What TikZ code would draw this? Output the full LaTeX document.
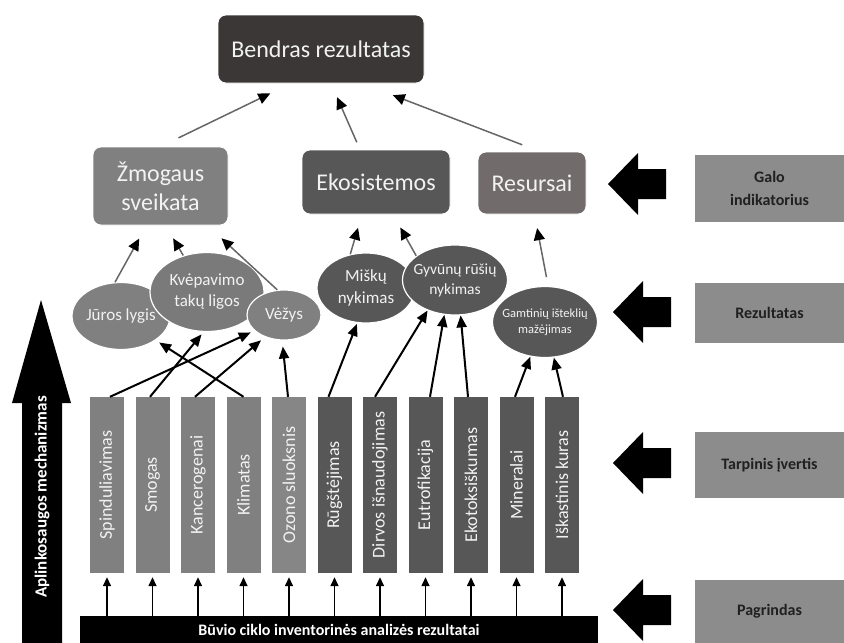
\documentclass[tikz,border=0pt]{standalone}
\usepackage{fontspec}
\setmainfont{Carlito}
\usetikzlibrary{arrows.meta,shapes.geometric}
\definecolor{cTop}{HTML}{3B3737}
\definecolor{cLight}{HTML}{808080}
\definecolor{cDark}{HTML}{575757}
\definecolor{cRes}{HTML}{726B6B}
\definecolor{cLab}{HTML}{8C8C8C}
\definecolor{cLine}{HTML}{666666}
\definecolor{cTxt}{HTML}{F2F2F2}
\definecolor{cLabTxt}{HTML}{202020}
\begin{document}
\begin{tikzpicture}[x=1pt,y=-1pt,
  boxnode/.style={rectangle, rounded corners=8pt, draw=white, line width=0.8pt, text=cTxt, align=center, inner sep=0pt, font=\fontsize{24}{29}\selectfont},
  ellnode/.style={ellipse, draw=white, line width=1.2pt, inner sep=0pt},
  elltxt/.style={text=cTxt, align=center, inner sep=0pt},
  barnode/.style={rectangle, minimum width=34pt, minimum height=176pt, inner sep=0pt, text=cTxt, font=\fontsize{18}{20}\selectfont},
  labnode/.style={rectangle, fill=cLab, text=cLabTxt, align=center, font=\bfseries\fontsize{16}{23}\selectfont, minimum width=149pt, inner sep=0pt},
  gar/.style={draw=cLine, line width=1.5pt, -{Triangle[length=12pt,width=11pt,color=black]}},
  blk/.style={draw=black, line width=2pt, -{Triangle[length=12pt,width=10pt]}},
  sml/.style={draw=black, line width=1.5pt, -{Triangle[length=9pt,width=8pt]}},
  bigarrow/.pic={\fill[black] (0,0) -- (30,-31) -- (30,-15) -- (58,-15) -- (58,15) -- (30,15) -- (30,31) -- cycle;}
]
\useasboundingbox (0,0) rectangle (844,643);
\fill[white] (0,0) rectangle (844,643);

% top level
\node[boxnode, fill=cTop, minimum width=206pt, minimum height=68pt] (top) at (321,49) {Bendras rezultatas};
\node[boxnode, fill=cLight, minimum width=135pt, minimum height=78pt] (zm) at (160.5,186) {Žmogaus\\sveikata};
\node[boxnode, fill=cDark, minimum width=148pt, minimum height=64pt] (eko) at (376,182) {Ekosistemos};
\node[boxnode, fill=cRes, minimum width=108pt, minimum height=62pt] (res) at (532,183) {Resursai};

% ellipses
\node[ellnode, fill=cLight, minimum width=98pt, minimum height=67pt] (jur) at (121,316) {};
\node[elltxt, font=\fontsize{17}{21}\selectfont] at (jur) {Jūros lygis};
\node[ellnode, fill=cLight!95!black, minimum width=114pt, minimum height=79pt] (kve) at (207,292) {};
\node[elltxt, font=\fontsize{17}{21}\selectfont] at (kve) {Kvėpavimo\\takų ligos};
\node[ellnode, fill=cLight, minimum width=74pt, minimum height=50pt] (vez) at (284,315) {};
\node[elltxt, font=\fontsize{17}{21}\selectfont] at (vez) {Vėžys};
\node[ellnode, fill=cDark, minimum width=98pt, minimum height=70pt] (mis) at (366,288) {};
\node[elltxt, font=\fontsize{17}{22}\selectfont] at (mis) {Miškų\\nykimas};
\node[ellnode, fill=cDark, minimum width=105pt, minimum height=70pt] (gyv) at (455,280) {};
\node[elltxt, font=\fontsize{15.5}{20}\selectfont] at (gyv) {Gyvūnų rūšių\\nykimas};
\node[ellnode, fill=cDark, minimum width=105pt, minimum height=71pt] (gam) at (545,322) {};
\node[elltxt, font=\fontsize{12.5}{16}\selectfont] at (gam) {Gamtinių išteklių\\mažėjimas};

% bars
\node[barnode, fill=cLight] (b1) at (107,485) {\rotatebox{90}{Spinduliavimas}};
\node[barnode, fill=cLight] (b2) at (152.5,485) {\rotatebox{90}{Smogas}};
\node[barnode, fill=cLight] (b3) at (198,485) {\rotatebox{90}{Kancerogenai}};
\node[barnode, fill=cLight] (b4) at (243.5,485) {\rotatebox{90}{Klimatas}};
\node[barnode, fill=cLight!95!white] (b5) at (289,485) {\rotatebox{90}{Ozono sluoksnis}};
\node[barnode, fill=cDark] (b6) at (334.5,485) {\rotatebox{90}{Rūgštėjimas}};
\node[barnode, fill=cDark] (b7) at (380,485) {\rotatebox{90}{Dirvos išnaudojimas}};
\node[barnode, fill=cDark] (b8) at (425.5,485) {\rotatebox{90}{Eutrofikacija}};
\node[barnode, fill=cDark] (b9) at (471,485) {\rotatebox{90}{Ekotoksiškumas}};
\node[barnode, fill=cDark] (b10) at (516.5,485) {\rotatebox{90}{Mineralai}};
\node[barnode, fill=cDark] (b11) at (562,485) {\rotatebox{90}{Iškastinis kuras}};

% base bar
\node[rectangle, fill=black, text=white, inner sep=0pt, minimum width=518pt, minimum height=27pt, font=\bfseries\fontsize{16}{18}\selectfont] (base) at (339,629.5) {Būvio ciklo inventorinės analizės rezultatai};

% right labels
\node[labnode, minimum height=67pt] (galo) at (769.5,188.5) {Galo\\indikatorius};
\node[labnode, minimum height=60pt] (rez) at (769.5,313) {Rezultatas};
\node[labnode, minimum height=66pt] (tar) at (769.5,465) {Tarpinis įvertis};
\node[labnode, minimum height=63pt] (pag) at (769.5,611.5) {Pagrindas};

% big left arrows
\pic at (608,184) {bigarrow};
\pic at (613,312) {bigarrow};
\pic at (613,463) {bigarrow};
\pic at (613,610) {bigarrow};

% big vertical arrow
\fill[black] (41,300) -- (71,403) -- (62,403) -- (62,643) -- (22,643) -- (22,403) -- (12,403) -- cycle;
\node[rotate=90, text=white, inner sep=0pt, font=\bfseries\fontsize{17}{19}\selectfont] (mech) at (42,497) {Aplinkosaugos mechanizmas};

% gray connectors
\draw[gar, shorten <=20pt, shorten >=23pt] (zm.north) -- ([xshift=-30pt]top.south);
\draw[gar, shorten <=8pt, shorten >=15pt] ([xshift=-16pt]eko.north) -- ([xshift=10pt]top.south);
\draw[gar, shorten <=19pt, shorten >=33pt] ([xshift=8pt]res.north) -- ([xshift=41pt]top.south);

\draw[gar, shorten >=15pt] (jur.100) -- ([xshift=-14pt]zm.south);
\draw[gar, shorten >=15pt] (kve.123) -- ([xshift=5pt]zm.south);
\draw[gar, shorten >=19pt] (vez.105) -- ([xshift=47pt]zm.south);
\draw[gar, shorten >=14pt] (mis.115) -- ([xshift=-14pt]eko.south);
\draw[gar, shorten >=15pt] (gyv.148) -- ([xshift=17pt]eko.south);
\draw[gar, shorten <=9pt, shorten >=14pt] (gam.85) -- ([xshift=2.5pt]res.south);

% black connectors
\draw[blk, shorten >=4pt] ([xshift=3pt]b1.north) -- (vez.208);
\draw[blk, shorten >=3pt] ([xshift=-2.5pt]b2.north) -- (kve.265);
\draw[blk, shorten >=5pt] ([xshift=-3pt]b3.north) -- (vez.229);
\draw[blk, shorten >=4pt] (b4.north) -- (jur.325);
\draw[blk, shorten >=6pt] ([xshift=-1pt]b5.north) -- (vez.266);
\draw[blk, shorten >=1pt] ([xshift=-6pt]b6.north) -- (mis.256);
\draw[blk] ([xshift=-5pt]b7.north) -- (gyv.228);
\draw[blk] ([xshift=4.5pt]b8.north) -- (gyv.253);
\draw[blk] ([xshift=-3pt]b9.north) -- (gyv.279);
\draw[blk] ([xshift=-1.5pt]b10.north) -- (gam.247);
\draw[blk] ([xshift=1pt]b11.north) -- (gam.284);

% small arrows from base
\foreach \i in {1,...,11} {
  \draw[sml, shorten >=4pt] (b\i.south |- base.north) -- (b\i.south);
}
\end{tikzpicture}
\end{document}
